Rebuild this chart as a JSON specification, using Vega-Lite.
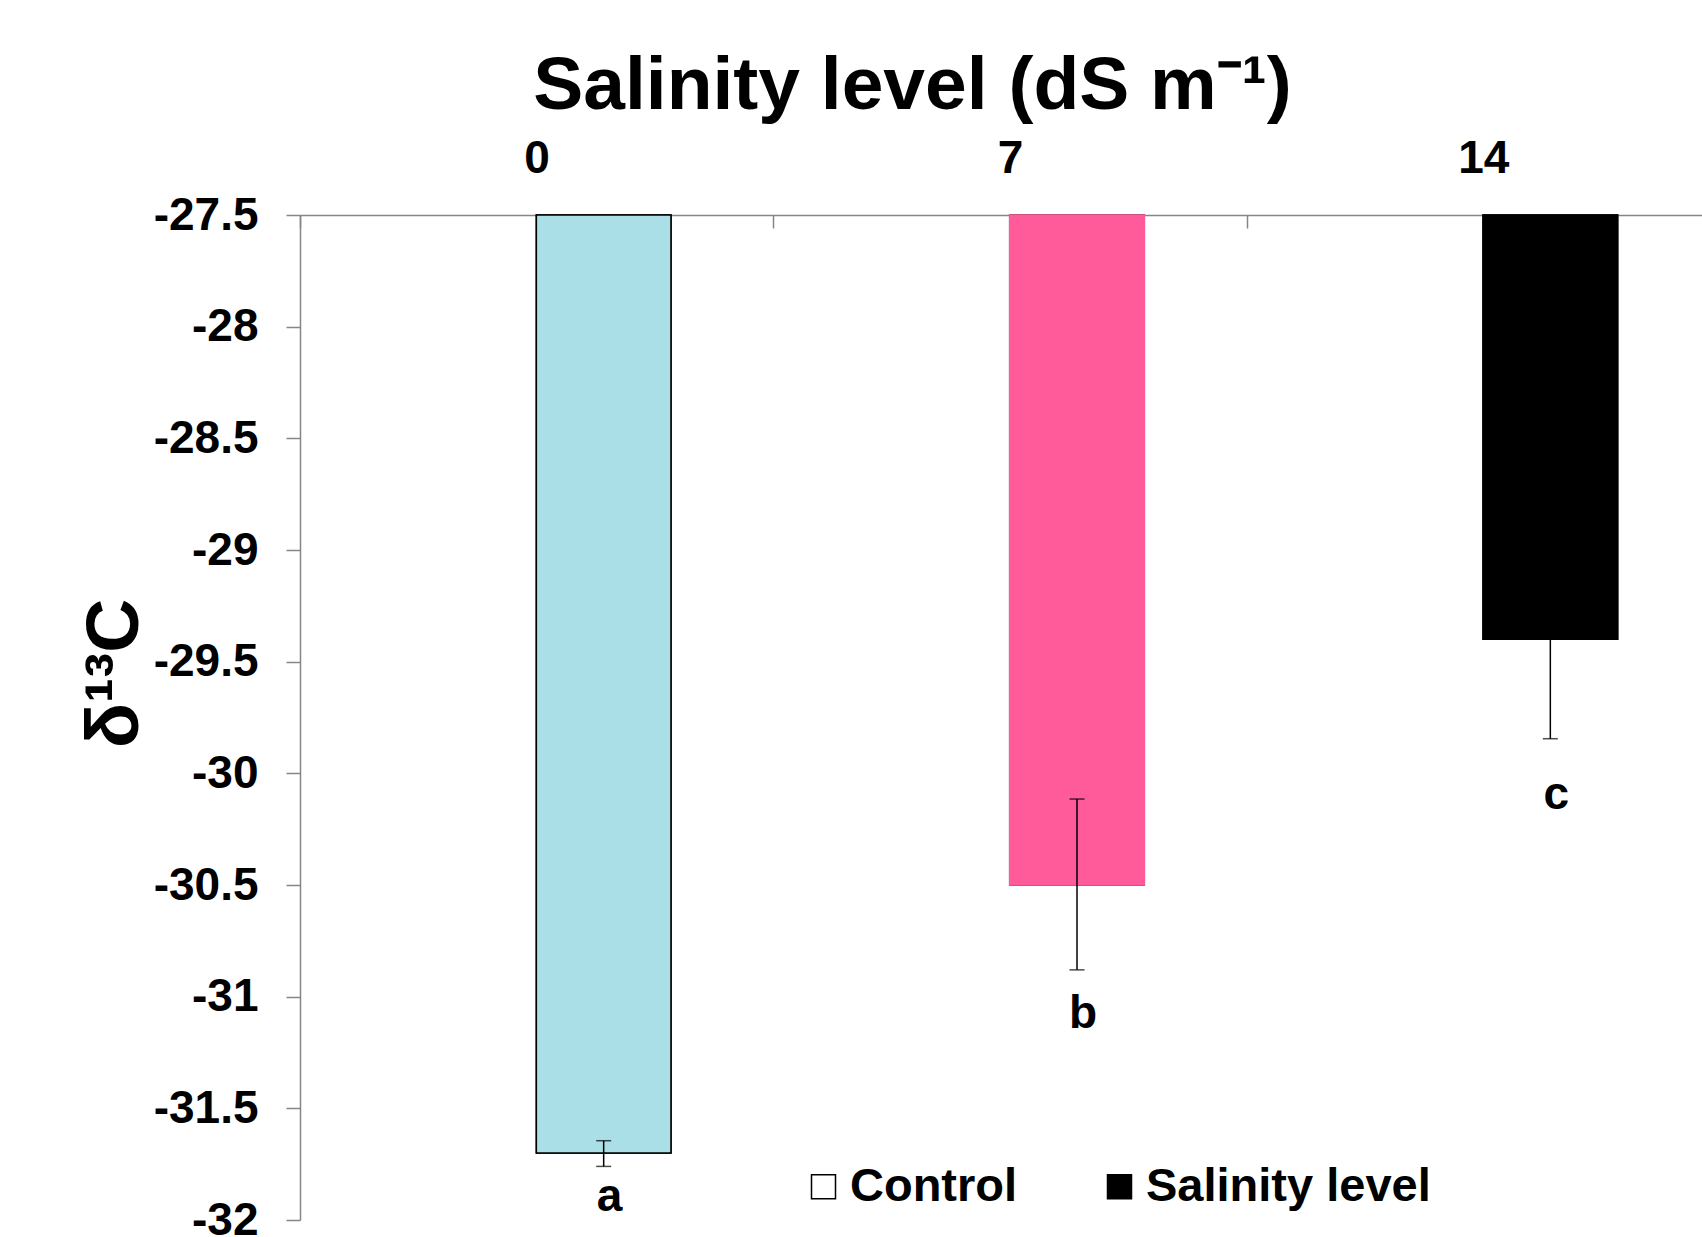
{
  "$schema": "https://vega.github.io/schema/vega-lite/v6.json",
  "autosize": {"type": "none"},
  "padding": {"left": 300, "top": 215, "right": 0, "bottom": 17},
  "width": 1402,
  "height": 1005,
  "background": "white",
  "data": {
    "values": [
      {"level": "0", "treatment": "Control", "value": -31.70, "lo": -31.76, "hi": -31.645, "letter": "a", "ly": -31.96},
      {"level": "7", "treatment": "Salinity level", "value": -30.50, "lo": -30.88, "hi": -30.115, "letter": "b", "ly": -31.14},
      {"level": "14", "treatment": "Salinity level", "value": -29.40, "lo": -29.845, "hi": -28.955, "letter": "c", "ly": -30.16}
    ]
  },
  "encoding": {
    "x": {
      "field": "level",
      "type": "nominal",
      "sort": ["0", "7", "14"],
      "scale": {"range": [0, 1420], "paddingInner": 0, "paddingOuter": 0},
      "axis": {
        "orient": "top",
        "tickBand": "extent",
        "labelAngle": 0,
        "tickSize": -13,
        "labelPadding": 46,
        "title": "Salinity level (dS m⁻¹)",
        "titleX": 612,
        "titleY": -107,
        "titleAlign": "center",
        "titleBaseline": "alphabetic"
      }
    }
  },
  "layer": [
    {
      "mark": {"type": "bar", "width": {"band": 0.2844}, "xOffset": 67, "stroke": "black", "strokeWidth": 1.5},
      "encoding": {
        "y": {
          "field": "value",
          "type": "quantitative",
          "scale": {"domain": [-32, -27.5], "nice": false, "zero": false},
          "axis": {
            "values": [-32, -31.5, -31, -30.5, -30, -29.5, -29, -28.5, -28, -27.5],
            "labelExpr": "'' + datum.value",
            "tickSize": 14,
            "labelPadding": 28,
            "title": "δ¹³C",
            "titleX": -186,
            "titleY": 458,
            "titleAlign": "center",
            "titleBaseline": "middle",
            "titleFontSize": 75
          }
        },
        "y2": {"datum": -27.5},
        "fill": {
          "field": "treatment",
          "type": "nominal",
          "scale": {"domain": ["Control", "Salinity level"], "range": ["white", "black"]},
          "legend": {
            "orient": "none",
            "legendX": 500,
            "legendY": 948,
            "direction": "horizontal",
            "title": null,
            "symbolType": "square",
            "symbolSize": 576,
            "symbolStrokeWidth": 1.5,
            "symbolStrokeColor": "black",
            "labelFont": "Liberation Sans",
            "labelFontWeight": "bold",
            "labelFontSize": 47,
            "labelColor": "black",
            "labelLimit": 0,
            "labelOffset": 3,
            "columnPadding": 78,
            "padding": 0
          }
        }
      }
    },
    {
      "mark": {"type": "bar", "width": {"band": 0.2844}, "xOffset": 67, "strokeWidth": 1.5},
      "encoding": {
        "y": {
          "field": "value",
          "type": "quantitative",
          "axis": {
            "values": [-32, -31.5, -31, -30.5, -30, -29.5, -29, -28.5, -28, -27.5],
            "labelExpr": "'' + datum.value",
            "tickSize": 14,
            "labelPadding": 28,
            "title": "δ¹³C",
            "titleX": -186,
            "titleY": 458,
            "titleAlign": "center",
            "titleBaseline": "middle",
            "titleFontSize": 75
          }
        },
        "y2": {"datum": -27.5},
        "fill": {
          "field": "level",
          "type": "nominal",
          "scale": {"domain": ["0", "7", "14"], "range": ["#abdfe7", "#ff5a9a", "#000000"]},
          "legend": null
        },
        "stroke": {
          "field": "level",
          "type": "nominal",
          "scale": {"domain": ["0", "7", "14"], "range": ["#000000", "#ff5a9a", "#000000"]},
          "legend": null
        }
      }
    },
    {
      "mark": {"type": "rule", "xOffset": 67, "strokeWidth": 1.5, "color": "black"},
      "encoding": {
        "y": {
          "field": "lo",
          "type": "quantitative",
          "axis": {
            "values": [-32, -31.5, -31, -30.5, -30, -29.5, -29, -28.5, -28, -27.5],
            "labelExpr": "'' + datum.value",
            "tickSize": 14,
            "labelPadding": 28,
            "title": "δ¹³C",
            "titleX": -186,
            "titleY": 458,
            "titleAlign": "center",
            "titleBaseline": "middle",
            "titleFontSize": 75
          }
        },
        "y2": {"field": "hi"}
      }
    },
    {
      "mark": {"type": "tick", "xOffset": 67, "size": 15, "thickness": 1.5, "color": "black"},
      "encoding": {
        "y": {
          "field": "lo",
          "type": "quantitative",
          "axis": {
            "values": [-32, -31.5, -31, -30.5, -30, -29.5, -29, -28.5, -28, -27.5],
            "labelExpr": "'' + datum.value",
            "tickSize": 14,
            "labelPadding": 28,
            "title": "δ¹³C",
            "titleX": -186,
            "titleY": 458,
            "titleAlign": "center",
            "titleBaseline": "middle",
            "titleFontSize": 75
          }
        }
      }
    },
    {
      "mark": {"type": "tick", "xOffset": 67, "size": 15, "thickness": 1.5, "color": "black"},
      "encoding": {
        "y": {
          "field": "hi",
          "type": "quantitative",
          "axis": {
            "values": [-32, -31.5, -31, -30.5, -30, -29.5, -29, -28.5, -28, -27.5],
            "labelExpr": "'' + datum.value",
            "tickSize": 14,
            "labelPadding": 28,
            "title": "δ¹³C",
            "titleX": -186,
            "titleY": 458,
            "titleAlign": "center",
            "titleBaseline": "middle",
            "titleFontSize": 75
          }
        }
      }
    },
    {
      "mark": {"type": "text", "xOffset": 73, "font": "Liberation Sans", "fontWeight": "bold", "fontSize": 46, "baseline": "alphabetic", "align": "center", "color": "black"},
      "encoding": {
        "y": {
          "field": "ly",
          "type": "quantitative",
          "axis": {
            "values": [-32, -31.5, -31, -30.5, -30, -29.5, -29, -28.5, -28, -27.5],
            "labelExpr": "'' + datum.value",
            "tickSize": 14,
            "labelPadding": 28,
            "title": "δ¹³C",
            "titleX": -186,
            "titleY": 458,
            "titleAlign": "center",
            "titleBaseline": "middle",
            "titleFontSize": 75
          }
        },
        "text": {"field": "letter"}
      }
    }
  ],
  "resolve": {"scale": {"fill": "independent", "stroke": "independent"}},
  "config": {
    "view": {"stroke": null},
    "axis": {
      "grid": false,
      "labelFont": "Liberation Sans",
      "labelFontWeight": "bold",
      "labelFontSize": 46,
      "labelColor": "black",
      "domainColor": "#868686",
      "domainWidth": 1.5,
      "tickColor": "#868686",
      "tickWidth": 1.5,
      "titleFont": "Liberation Sans",
      "titleFontWeight": "bold",
      "titleFontSize": 75,
      "titleColor": "black"
    }
  }
}
